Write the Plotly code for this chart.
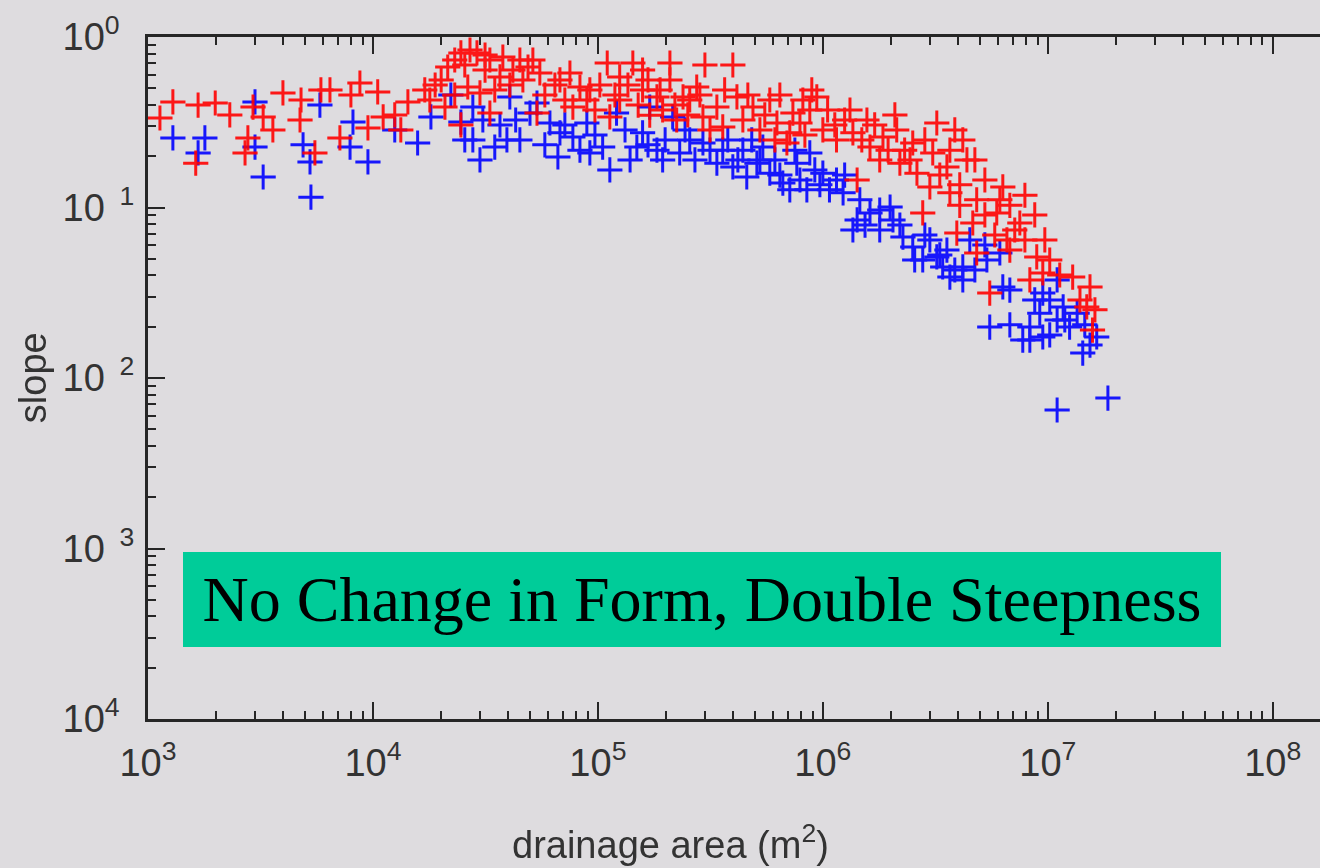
import plotly.graph_objects as go

# ---- data ----
blue_area = [1.29e3, 1.79e3, 1.67e3, 2.99e3, 2.99e3, 3.25e3, 4.89e3, 5.25e3, 5.30e3, 5.81e3,
             8.15e3, 7.91e3, 9.50e3, 1.25e4, 1.58e4, 1.81e4, 2.46e4, 2.56e4, 2.22e4, 2.78e4,
             2.78e4, 3.08e4, 3.48e4, 3.94e4, 4.50e4, 4.06e4, 4.99e4, 5.36e4, 6.12e4, 6.64e4,
             6.78e4, 7.74e4, 8.93e4, 9.21e4, 1.05e5, 1.13e5, 1.21e5, 1.49e5, 1.58e5, 1.70e5,
             1.83e5, 1.94e5, 2.15e5, 2.31e5, 2.56e5, 2.93e5, 3.38e5, 3.59e5, 3.98e5, 4.41e5,
             4.59e5, 5.09e5, 5.81e5, 6.64e5, 7.13e5, 5.41e5, 7.66e5, 8.49e5, 1.0e6, 1.15e6,
             8.75e5, 1.23e6, 1.42e6, 1.36e6, 1.62e6, 1.99e6, 2.05e6, 2.27e6, 2.51e6, 2.99e6,
             3.21e6, 3.41e6, 3.67e6, 4.19e6, 4.50e6, 5.36e6, 6.12e6, 6.31e6, 5.52e6, 7.74e6,
             9.21e6, 9.50e6, 1.10e7, 1.10e7, 1.25e7, 1.35e7, 1.43e7, 1.65e7, 9.50e6, 1.10e7,
             1.85e7, 8.32e6, 1.17e7, 2.78e6, 3.56e6, 4.19e6, 7.91e5, 1.07e6, 1.79e6, 5.25e5,
             2.99e4, 3.67e4, 4.31e4, 5.81e4, 7.13e4, 8.32e4, 9.70e4, 1.32e5, 1.39e5, 1.67e5,
             1.99e5, 2.44e5, 2.70e5, 3.15e5, 3.78e5, 4.19e5, 4.83e5, 6.12e5, 6.44e5, 7.51e5,
             9.21e5, 9.70e5, 1.25e6, 1.46e6, 1.54e6, 1.79e6, 2.20e6, 2.56e6, 2.84e6, 3.31e6,
             3.86e6, 4.74e6, 5.25e6, 6.78e6, 8.75e6, 1.02e7, 1.19e7, 1.46e7, 8.32e6, 1.02e7,
             1.54e7, 6.78e6]
blue_slope = [0.256, 0.256, 0.209, 0.416, 0.226, 0.151, 0.233, 0.185, 0.115, 0.399,
              0.317, 0.226, 0.185, 0.285, 0.239, 0.340, 0.317, 0.249, 0.457, 0.388,
              0.249, 0.326, 0.226, 0.249, 0.249, 0.445, 0.358, 0.410, 0.313, 0.198,
              0.274, 0.259, 0.313, 0.209, 0.226, 0.166, 0.358, 0.226, 0.274, 0.388,
              0.217, 0.190, 0.340, 0.209, 0.249, 0.239, 0.182, 0.217, 0.173, 0.217,
              0.151, 0.182, 0.159, 0.139, 0.127, 0.226, 0.182, 0.127, 0.159, 0.145,
              0.209, 0.122, 0.0845, 0.0738, 0.0929, 0.1006, 0.0845, 0.0671, 0.0586, 0.0645,
              0.0513, 0.0448, 0.0391, 0.0376, 0.0645, 0.0492, 0.0541, 0.0342, 0.0199, 0.0167,
              0.0240, 0.0315, 0.0376, 0.0219, 0.0199, 0.0240, 0.0140, 0.0174, 0.0174, 0.00649,
              0.00763, 0.0199, 0.0261, 0.0492, 0.0563, 0.0448, 0.145, 0.127, 0.0967, 0.190,
              0.190, 0.305, 0.326, 0.233, 0.305, 0.217, 0.266, 0.285, 0.190, 0.233,
              0.249, 0.285, 0.190, 0.217, 0.249, 0.190, 0.249, 0.190, 0.155, 0.217,
              0.166, 0.136, 0.155, 0.111, 0.0789, 0.0738, 0.0789, 0.0492, 0.0690, 0.0527,
              0.0430, 0.0430, 0.0603, 0.0328, 0.0287, 0.0287, 0.0219, 0.0205, 0.0167, 0.0179,
              0.0156, 0.0205]

red_area = [1.13e3, 1.29e3, 1.67e3, 1.99e3, 1.63e3, 2.70e3, 2.78e3, 2.93e3, 3.25e3, 3.59e3,
            3.98e3, 4.79e3, 5.52e3, 5.87e3, 6.44e3, 7.13e3, 7.98e3, 8.75e3, 1.05e4, 1.11e4,
            9.50e3, 1.33e4, 1.43e4, 1.70e4, 1.89e4, 2.01e4, 2.15e4, 2.31e4, 2.46e4, 2.70e4,
            2.09e4, 2.46e4, 2.64e4, 2.90e4, 3.31e4, 3.78e4, 4.19e4, 4.89e4, 5.14e4, 5.52e4,
            4.64e4, 3.67e4, 2.99e4, 3.31e4, 5.36e4, 6.78e4, 7.51e4, 8.32e4, 8.93e4, 7.74e4,
            1.10e5, 1.13e5, 1.25e5, 1.43e5, 1.58e5, 1.58e5, 1.83e5, 2.09e5, 2.09e5, 1.94e5,
            2.24e5, 2.39e5, 2.75e5, 2.99e5, 2.93e5, 3.38e5, 3.59e5, 3.98e5, 4.15e5, 4.41e5,
            4.89e5, 5.25e5, 5.81e5, 6.25e5, 6.92e5, 7.36e5, 7.13e5, 8.15e5, 9.40e5, 7.91e5,
            1.0e6, 1.15e6, 1.36e6, 1.57e6, 1.62e6, 1.85e6, 1.42e6, 2.13e6, 2.20e6, 2.51e6,
            2.62e6, 3.21e6, 3.08e6, 3.56e6, 4.19e6, 4.37e6, 2.99e6, 3.67e6, 2.78e6, 4.83e6,
            5.93e6, 6.31e6, 7.51e6, 4.64e6, 3.94e6, 8.93e6, 8.32e6, 5.52e6, 1.29e7, 1.54e7,
            1.49e7, 1.58e7, 6.58e6, 9.50e6, 4.83e6, 8.75e5, 1.25e6, 1.79e6, 2.31e6, 3.67e6,
            5.25e6, 6.78e6, 7.91e6, 1.02e7, 1.25e5, 1.70e5, 2.56e5, 1.02e5,
            3.15e4, 3.48e4, 4.06e4, 4.50e4, 5.81e4, 6.44e4, 7.13e4, 9.21e4, 9.70e4, 1.19e5,
            1.36e5, 1.51e5, 1.67e5, 1.89e5, 2.20e5, 2.51e5, 2.84e5, 3.15e5, 3.66e5, 4.64e5,
            5.52e5, 6.12e5, 6.44e5, 8.32e5, 8.93e5, 1.05e6, 1.13e6, 1.32e6, 1.49e6, 1.70e6,
            1.95e6, 2.09e6, 2.44e6, 2.84e6, 3.31e6, 3.86e6, 4.06e6, 4.74e6, 5.25e6, 6.12e6,
            7.13e6, 7.91e6, 8.75e6, 9.70e6, 1.13e7, 1.39e7, 1.62e7, 6.78e6, 5.81e6, 4.06e6,
            1.79e4, 2.31e4, 1.25e4, 4.74e3, 2.31e3, 2.56e4, 3.15e4]
red_slope = [0.335, 0.416, 0.399, 0.410, 0.182, 0.209, 0.256, 0.388, 0.340, 0.285,
             0.470, 0.427, 0.209, 0.489, 0.489, 0.256, 0.457, 0.537, 0.476, 0.340,
             0.293, 0.285, 0.416, 0.489, 0.523, 0.560, 0.667, 0.733, 0.806, 0.839,
             0.388, 0.305, 0.509, 0.806, 0.733, 0.763, 0.640, 0.667, 0.733, 0.615,
             0.560, 0.583, 0.470, 0.358, 0.358, 0.560, 0.615, 0.509, 0.427, 0.388,
             0.704, 0.340, 0.583, 0.704, 0.640, 0.489, 0.445, 0.704, 0.560, 0.373,
             0.326, 0.445, 0.509, 0.685, 0.340, 0.388, 0.297, 0.685, 0.445, 0.326,
             0.388, 0.285, 0.427, 0.313, 0.239, 0.358, 0.274, 0.427, 0.445, 0.313,
             0.285, 0.249, 0.274, 0.326, 0.226, 0.259, 0.145, 0.285, 0.182, 0.239,
             0.159, 0.313, 0.209, 0.173, 0.249, 0.190, 0.132, 0.122, 0.0929, 0.111,
             0.0929, 0.132, 0.0811, 0.0811, 0.0708, 0.0513, 0.0376, 0.0315, 0.0391, 0.0342,
             0.0261, 0.0191, 0.0645, 0.0413, 0.0541, 0.373, 0.326, 0.190, 0.217, 0.217,
             0.145, 0.103, 0.0645, 0.0492, 0.427, 0.348, 0.427, 0.523,
             0.640, 0.489, 0.523, 0.733, 0.457, 0.523, 0.427, 0.489, 0.373, 0.457,
             0.523, 0.399, 0.560, 0.489, 0.399, 0.349, 0.457, 0.285, 0.489, 0.457,
             0.349, 0.249, 0.457, 0.266, 0.489, 0.373, 0.305, 0.373, 0.249, 0.305,
             0.217, 0.349, 0.190, 0.249, 0.155, 0.285, 0.136, 0.190, 0.0904, 0.111,
             0.0738, 0.118, 0.0904, 0.0645, 0.0402, 0.0287, 0.0251, 0.0563, 0.0690, 0.103,
             0.427, 0.457, 0.349, 0.326, 0.349, 0.685, 0.784]

x_tickvals = [1e3, 1e4, 1e5, 1e6, 1e7, 1e8]
x_ticktext = ["10<sup>3</sup>", "10<sup>4</sup>", "10<sup>5</sup>", "10<sup>6</sup>",
              "10<sup>7</sup>", "10<sup>8</sup>"]
y_tickvals = [1e0, 1e-1, 1e-2, 1e-3, 1e-4]
y_ticktext = ["10<sup>0&nbsp;&nbsp;</sup>", "10<sup>&nbsp;&nbsp;1</sup>",
              "10<sup>&nbsp;&nbsp;2</sup>", "10<sup>&nbsp;&nbsp;3</sup>",
              "10<sup>4&nbsp;&nbsp;</sup>"]

title_text = "No Change in Form, Double Steepness"
x_title = "drainage area (m<sup>2</sup>)"
y_title = "slope"

BG = "#dedcdf"
AX = "#262626"
BLUE = "#0000ff"
RED = "#ff0000"

minor_x = [m * 10 ** k for k in range(3, 8) for m in range(2, 10)]
minor_y = [m * 10.0 ** k for k in range(-4, 0) for m in range(2, 10)]

fig = go.Figure()
fig.add_trace(go.Scatter(x=blue_area, y=blue_slope, mode="markers",
                         marker=dict(symbol="cross-thin-open", size=18, color=BLUE,
                                     line=dict(color=BLUE, width=3)),
                         opacity=0.9, showlegend=False))
fig.add_trace(go.Scatter(x=red_area, y=red_slope, mode="markers",
                         marker=dict(symbol="cross-thin-open", size=18, color=RED,
                                     line=dict(color=RED, width=3)),
                         opacity=0.9, showlegend=False))

axis_font = dict(family="Liberation Sans, Arial, sans-serif", size=38, color="#333333")

fig.update_xaxes(type="log", range=[3, 8.21], showgrid=False, zeroline=False,
                 showline=True, linecolor=AX, linewidth=3, mirror="allticks",
                 ticks="inside", ticklen=17, tickwidth=2, tickcolor=AX,
                 tickvals=x_tickvals, ticktext=x_ticktext, tickfont=axis_font,
                 ticklabelstandoff=8,
                 minor=dict(tickvals=minor_x, ticks="inside", ticklen=8, tickwidth=2,
                            tickcolor=AX, showgrid=False))
fig.update_yaxes(type="log", range=[-4, 0], showgrid=False, zeroline=False,
                 showline=True, linecolor=AX, linewidth=3, mirror=False,
                 ticks="inside", ticklen=17, tickwidth=2, tickcolor=AX,
                 tickvals=y_tickvals, ticktext=y_ticktext, tickfont=axis_font,
                 ticklabelstandoff=3,
                 minor=dict(tickvals=minor_y, ticks="inside", ticklen=8, tickwidth=2,
                            tickcolor=AX, showgrid=False))

fig.add_annotation(xref="paper", yref="paper", x=0.4727, y=0.1752,
                   xanchor="center", yanchor="middle", showarrow=False,
                   text=title_text, bgcolor="#00cc99", width=1038, height=95,
                   borderpad=0, borderwidth=0,
                   font=dict(family="Liberation Serif, Times New Roman, serif", size=64,
                             color="#000000"))
fig.add_annotation(xref="paper", yref="paper", x=0.4454, y=-0.181,
                   xanchor="center", yanchor="middle", showarrow=False,
                   text=x_title,
                   font=dict(family="Liberation Sans, Arial", size=38, color="#333333"))
fig.add_annotation(xref="paper", yref="paper", x=-0.098, y=0.5,
                   xanchor="center", yanchor="middle", showarrow=False, textangle=-90,
                   text=y_title,
                   font=dict(family="Liberation Sans, Arial", size=38, color="#333333"))

fig.update_layout(width=1320, height=868, margin=dict(l=148, r=0, t=37, b=149),
                  paper_bgcolor=BG, plot_bgcolor=BG, hovermode=False)

fig.write_html("out.html", config={"displayModeBar": False, "staticPlot": True},
               post_script="document.body.style.margin='0px';"
                           "document.body.style.background='" + BG + "';")
